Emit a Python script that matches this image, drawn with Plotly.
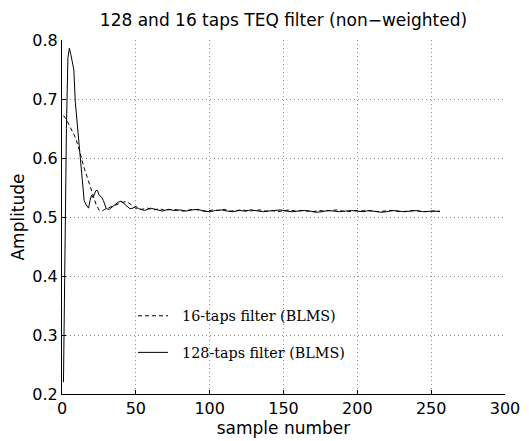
import plotly.graph_objects as go

# 128-taps filter (BLMS), solid
samples_128 = [1, 2, 3, 4, 5, 6, 7, 8, 9, 10, 11, 12, 13, 14, 15, 16, 17, 18, 19, 20,
               21, 22, 23, 24, 25, 26, 27, 28, 29, 30, 32, 34, 36, 38, 40, 42, 44, 46, 48, 50,
               52, 56, 60, 64, 68, 72, 76, 80, 84, 88, 92, 96, 100, 104, 108, 112, 116, 120,
               124, 128, 132, 136, 140, 144, 148, 152, 156, 160, 164, 168, 172, 176, 180,
               184, 188, 192, 196, 200, 204, 208, 212, 216, 220, 224, 228, 232, 236, 240,
               244, 248, 252, 256]
values_128 = [0.220, 0.450, 0.650, 0.770, 0.786, 0.775, 0.765, 0.750, 0.695, 0.665,
              0.635, 0.605, 0.575, 0.550, 0.528, 0.522, 0.518, 0.515, 0.528, 0.537,
              0.533, 0.540, 0.545, 0.545, 0.538, 0.535, 0.533, 0.528, 0.520, 0.514,
              0.513, 0.517, 0.522, 0.525, 0.527, 0.523, 0.518, 0.514, 0.515, 0.518,
              0.514, 0.511, 0.515, 0.512, 0.510, 0.513, 0.511, 0.512, 0.510, 0.512,
              0.513, 0.510, 0.509, 0.511, 0.512, 0.510, 0.509, 0.511, 0.510, 0.512,
              0.511, 0.509, 0.510, 0.511, 0.512, 0.510, 0.509, 0.510, 0.511, 0.510,
              0.508, 0.509, 0.511, 0.510, 0.509, 0.510, 0.511, 0.510, 0.509, 0.511,
              0.510, 0.508, 0.509, 0.511, 0.510, 0.509, 0.510, 0.511, 0.509, 0.510,
              0.510, 0.509]

# 16-taps filter (BLMS), dashed
samples_16 = [1, 3, 5, 7, 9, 11, 13, 15, 17, 19, 21, 23, 25, 27, 29, 32, 35, 38, 41, 44,
              47, 50, 54, 58, 62, 66, 70, 74, 78, 82, 86, 90, 94, 98, 102, 106, 110, 114,
              118, 122, 126, 130, 134, 138, 142, 146, 150, 154, 158, 162, 166, 170, 174,
              178, 182, 186, 190, 194, 198, 202, 206, 210, 214, 218, 222, 226, 230, 234,
              238, 242, 246, 250, 254, 256]
values_16 = [0.672, 0.665, 0.655, 0.645, 0.635, 0.620, 0.600, 0.583, 0.568, 0.553,
             0.538, 0.522, 0.512, 0.510, 0.513, 0.516, 0.520, 0.522, 0.525, 0.526,
             0.520, 0.515, 0.513, 0.515, 0.512, 0.514, 0.511, 0.513, 0.512, 0.510,
             0.512, 0.513, 0.511, 0.510, 0.512, 0.511, 0.513, 0.510, 0.511, 0.512,
             0.510, 0.511, 0.512, 0.510, 0.511, 0.509, 0.511, 0.512, 0.510, 0.511,
             0.510, 0.509, 0.511, 0.510, 0.511, 0.512, 0.510, 0.509, 0.511, 0.510,
             0.511, 0.510, 0.509, 0.510, 0.511, 0.510, 0.509, 0.510, 0.511, 0.510,
             0.509, 0.510, 0.510, 0.510]

x_ticks = [0, 50, 100, 150, 200, 250, 300]
y_ticks = [0.2, 0.3, 0.4, 0.5, 0.6, 0.7, 0.8]
y_tick_labels = ["0.2", "0.3", "0.4", "0.5", "0.6", "0.7", "0.8"]

SANS = "DejaVu Sans, Arial, sans-serif"
SERIF = "DejaVu Serif, Times New Roman, serif"

# The page body has an 8px margin; size the figure so it fits the 529x441 window.
W, H = 521, 433

fig = go.Figure()
fig.add_trace(go.Scatter(x=samples_16, y=values_16, mode="lines",
                         name="\u00a0\u00a016-taps filter (BLMS)", legendgroup="a",
                         line=dict(color="black", width=1, dash="4px,3px")))
fig.add_trace(go.Scatter(x=samples_128, y=values_128, mode="lines",
                         name="\u00a0\u00a0128-taps filter (BLMS)", legendgroup="b",
                         line=dict(color="black", width=1)))

axis_common = dict(
    showline=True, linecolor="black", linewidth=1, mirror=False,
    ticks="inside", ticklen=4, tickcolor="black", tickwidth=1,
    showgrid=True, gridcolor="#909090", gridwidth=1, griddash="1px,3px",
    zeroline=False, automargin=False,
    tickfont=dict(family=SANS, size=16, color="black"),
)

fig.update_xaxes(range=[0, 300], tickvals=x_ticks, **axis_common,
                 title=dict(text="sample number", font=dict(family=SANS, size=17, color="black"),
                            standoff=0))
fig.update_yaxes(range=[0.2, 0.8], tickvals=y_ticks, ticktext=y_tick_labels, **axis_common,
                 title=dict(text="Amplitude", font=dict(family=SANS, size=17, color="black"),
                            standoff=3))

fig.update_layout(
    width=W, height=H,
    margin=dict(l=54, r=24, t=32, b=47, autoexpand=False),
    plot_bgcolor="white", paper_bgcolor="white",
    title=dict(text="128 and 16 taps TEQ filter (non\u2212weighted)",
               font=dict(family=SANS, size=17, color="black"),
               x=0.5, xref="paper", xanchor="center",
               y=1 - 12 / H, yref="container", yanchor="middle"),
    legend=dict(x=(133 - 62) / 443, y=(394 - 300) / 354, xanchor="left", yanchor="top",
                bgcolor="rgba(0,0,0,0)", borderwidth=0, itemwidth=30,
                tracegroupgap=15,
                font=dict(family=SERIF, size=14.3, color="black")),
    showlegend=True,
)

fig.write_html("out.html")
